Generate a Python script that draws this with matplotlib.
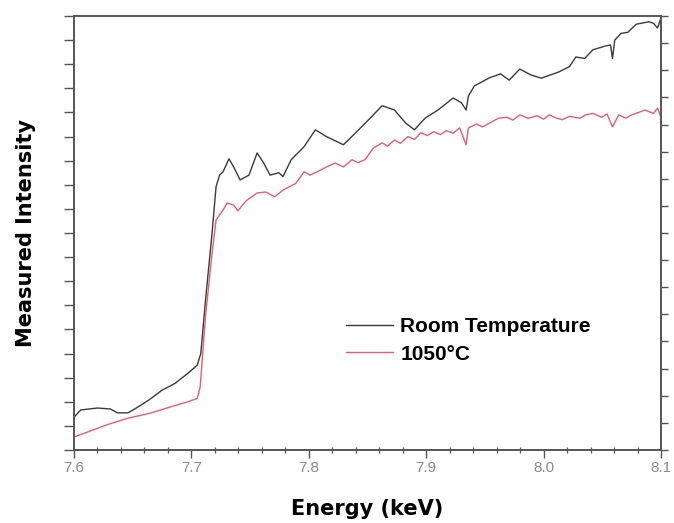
import matplotlib
matplotlib.use("Agg")
import matplotlib.pyplot as plt
from matplotlib.ticker import MultipleLocator

plt.rcParams['font.family'] = ['Liberation Sans', 'DejaVu Sans']

# Energy (keV) and intensity (arbitrary units)
rt_energy = [7.600, 7.6057, 7.620, 7.631, 7.637, 7.646, 7.653, 7.664, 7.675, 7.686,
             7.697, 7.705, 7.708, 7.712, 7.7176, 7.721, 7.724, 7.727, 7.732, 7.736,
             7.7415, 7.749, 7.756, 7.7616, 7.767, 7.7745, 7.778, 7.785, 7.796, 7.8056,
             7.815, 7.8295, 7.840, 7.851, 7.8625, 7.873, 7.8825, 7.890, 7.899, 7.910,
             7.923, 7.930, 7.934, 7.936, 7.941, 7.954, 7.9634, 7.9707, 7.9797, 7.989,
             7.998, 8.013, 8.022, 8.0275, 8.035, 8.042, 8.053, 8.057, 8.0587, 8.0606,
             8.066, 8.0716, 8.079, 8.0897, 8.0936, 8.097, 8.100]
rt_intensity = [0.68, 0.83, 0.87, 0.85, 0.77, 0.77, 0.87, 1.04, 1.24, 1.38,
                1.59, 1.76, 2.00, 3.10, 4.50, 5.46, 5.70, 5.77, 6.04, 5.87,
                5.60, 5.70, 6.16, 5.95, 5.70, 5.75, 5.67, 6.02, 6.29, 6.64,
                6.50, 6.33, 6.58, 6.85, 7.14, 7.05, 6.78, 6.64, 6.88, 7.05,
                7.30, 7.20, 7.05, 7.34, 7.55, 7.72, 7.80, 7.67, 7.90, 7.78,
                7.71, 7.84, 7.95, 8.15, 8.12, 8.30, 8.38, 8.40, 8.12, 8.50,
                8.64, 8.66, 8.83, 8.88, 8.85, 8.75, 8.96]

ht_energy = [7.600, 7.609, 7.6277, 7.646, 7.6644, 7.683, 7.697, 7.705, 7.7075, 7.712,
             7.7176, 7.721, 7.727, 7.7305, 7.736, 7.7396, 7.7467, 7.756, 7.7634, 7.771,
             7.778, 7.789, 7.796, 7.801, 7.8074, 7.815, 7.8225, 7.8295, 7.8368, 7.842,
             7.8478, 7.855, 7.8625, 7.867, 7.873, 7.878, 7.8845, 7.890, 7.8955, 7.901,
             7.9063, 7.912, 7.917, 7.923, 7.9285, 7.934, 7.936, 7.943, 7.948, 7.954,
             7.9615, 7.9686, 7.974, 7.9797, 7.987, 7.9945, 8.000, 8.005, 8.010, 8.016,
             8.022, 8.031, 8.036, 8.042, 8.0495, 8.054, 8.0587, 8.064, 8.070, 8.075,
             8.081, 8.0863, 8.0936, 8.097, 8.100]
ht_intensity = [0.27, 0.35, 0.52, 0.66, 0.76, 0.90, 1.00, 1.07, 1.31, 2.77,
                4.08, 4.77, 4.98, 5.12, 5.08, 4.96, 5.17, 5.33, 5.35, 5.25,
                5.39, 5.53, 5.77, 5.70, 5.77, 5.87, 5.95, 5.87, 6.02, 5.96,
                6.02, 6.26, 6.37, 6.30, 6.43, 6.36, 6.50, 6.44, 6.58, 6.52,
                6.60, 6.54, 6.62, 6.57, 6.68, 6.33, 6.68, 6.76, 6.70, 6.78,
                6.88, 6.90, 6.84, 6.95, 6.88, 6.93, 6.86, 6.95, 6.89, 6.85,
                6.92, 6.88, 6.95, 6.98, 6.90, 6.97, 6.70, 6.95, 6.88, 6.95,
                7.00, 7.05, 6.98, 7.09, 6.90]

x_ticks = [7.6, 7.7, 7.8, 7.9, 8.0, 8.1]
x_tick_labels = ["7.6", "7.7", "7.8", "7.9", "8.0", "8.1"]
series_labels = ["Room Temperature", "1050\u00b0C"]

fig = plt.figure(figsize=(6.74, 5.23), dpi=100)
ax = fig.add_axes([0.1098, 0.1396, 0.8709, 0.8298])

ax.plot(rt_energy, rt_intensity, color="#3a3a3a", lw=1.0, label=series_labels[0])
ax.plot(ht_energy, ht_intensity, color="#e0606e", lw=1.0, label=series_labels[1])

ax.set_xlim(7.6, 8.1)
ax.set_ylim(0, 9)
ax.set_xticks(x_ticks)
ax.set_xticklabels(x_tick_labels)
ax.xaxis.set_minor_locator(MultipleLocator(0.02))
ax.yaxis.set_major_locator(MultipleLocator(0.5))
ax.set_yticklabels([])

spine_col = "#555555"
for s in ax.spines.values():
    s.set_color(spine_col)
    s.set_linewidth(1.2)

ax.tick_params(axis='x', which='major', direction='out', length=6, width=1.0,
               color=spine_col, labelsize=11, labelcolor="#8a8a8a", pad=2)
ax.tick_params(axis='x', which='minor', direction='inout', length=5, width=0.9,
               color=spine_col)
ax.tick_params(axis='y', which='major', direction='out', length=7, width=1.0,
               color=spine_col)

ax2 = ax.twinx()
ax2.set_ylim(0, 16)
ax2.yaxis.set_major_locator(MultipleLocator(1))
ax2.set_yticklabels([])
ax2.tick_params(axis='y', direction='out', length=5, width=1.0, color=spine_col)
for s in ax2.spines.values():
    s.set_color(spine_col)
    s.set_linewidth(1.2)

ax.set_xlabel("Energy (keV)", fontsize=15, fontweight='bold', labelpad=17,
              family=['DejaVu Sans'])
ax.set_ylabel("Measured Intensity", fontsize=15, fontweight='bold', labelpad=17,
              family=['DejaVu Sans'])

leg = ax.legend(loc='upper left', bbox_to_anchor=(0.4634, 0.306), frameon=False,
                fontsize=15, handlelength=2.26, handletextpad=0.34,
                labelspacing=0.4, borderpad=0, borderaxespad=0)
for t in leg.get_texts():
    t.set_fontweight('bold')

fig.savefig("out.png", dpi=100)
